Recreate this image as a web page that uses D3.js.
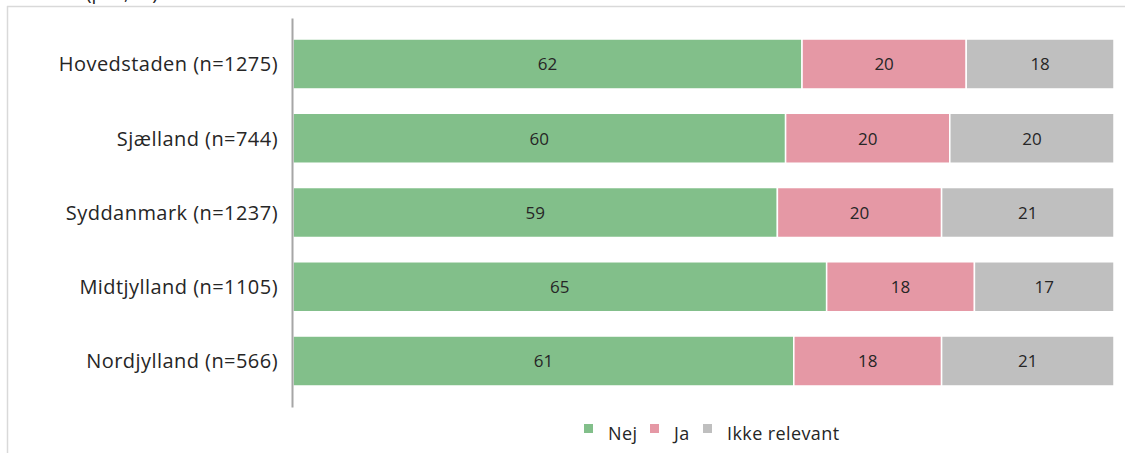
<!DOCTYPE html>
<html lang="da">
<head>
<meta charset="utf-8">
<title>Stacked bars by region</title>
<script src="https://cdn.jsdelivr.net/npm/d3@7"></script>
<style>
  body { margin: 0; background: #fff; }
  svg text { font-family: "Open Sans", Lato, sans-serif; fill: #262626; }
</style>
</head>
<body>
<script>
// data
var regions = ["Hovedstaden (n=1275)", "Sjælland (n=744)", "Syddanmark (n=1237)", "Midtjylland (n=1105)", "Nordjylland (n=566)"];
var seriesNames = ["Nej", "Ja", "Ikke relevant"];
var nej = [62, 60, 59, 65, 61];
var ja = [20, 20, 20, 18, 18];
var ikkeRelevant = [18, 20, 21, 17, 21];
var colors = ["#82bf8a", "#e598a5", "#bfbfbf"];

var w = 1125, h = 453;

var svg = d3.select("body").append("svg")
    .attr("width", w)
    .attr("height", h);

// chart frame (cut off at right and bottom)
svg.append("line").attr("x1", 7.5).attr("x2", 7.5).attr("y1", 6).attr("y2", h)
    .attr("stroke", "#d9d9d9").attr("stroke-width", 1.5);
svg.append("line").attr("x1", 7).attr("x2", w).attr("y1", 6.5).attr("y2", 6.5)
    .attr("stroke", "#d9d9d9").attr("stroke-width", 1.5);

// title, mostly outside the picture
svg.append("text").attr("x", 86).attr("y", 0)
    .style("font-size", "19px")
    .text("(pct., år)");

var rows = regions.map(function(r, i) {
    return { region: r, values: [nej[i], ja[i], ikkeRelevant[i]] };
});

var xScale = d3.scaleLinear().domain([0, 100]).range([293, 1114]);
var yScale = d3.scaleBand().domain(regions).range([18, 407])
    .paddingInner(0.327).paddingOuter(0.283);

var segs = [];
rows.forEach(function(row) {
    var x0 = 0;
    row.values.forEach(function(v, j) {
        segs.push({ region: row.region, start: x0, end: x0 + v, value: v, k: j });
        x0 += v;
    });
});

svg.selectAll("rect.seg")
   .data(segs)
   .enter()
   .append("rect")
   .attr("class", "seg")
   .attr("x", function(d) { return xScale(d.start); })
   .attr("y", function(d) { return yScale(d.region); })
   .attr("width", function(d) { return xScale(d.end) - xScale(d.start); })
   .attr("height", yScale.bandwidth())
   .attr("fill", function(d) { return colors[d.k]; })
   .attr("stroke", "#fff")
   .attr("stroke-width", 1.5);

svg.selectAll("text.val")
   .data(segs)
   .enter()
   .append("text")
   .attr("class", "val")
   .attr("x", function(d) { return (xScale(d.start) + xScale(d.end)) / 2; })
   .attr("y", function(d) { return yScale(d.region) + yScale.bandwidth() / 2; })
   .attr("text-anchor", "middle")
   .attr("dy", "0.37em")
   .style("font-size", "17px")
   .text(function(d) { return d.value; });

// y axis
var yAxis = d3.axisLeft(yScale).tickSize(0).tickPadding(14);
var gy = svg.append("g").attr("transform", "translate(292,0)").call(yAxis);
gy.select(".domain").attr("stroke", "#a6a6a6").attr("stroke-width", 2);
gy.selectAll("text")
  .style("font-size", "20px")
  .style("letter-spacing", "0.45px")
  .attr("dy", "0.37em")
  .attr("fill", "#262626");

// legend
var legendX = [584, 650, 703];
var legend = svg.selectAll("g.leg")
   .data(seriesNames)
   .enter()
   .append("g")
   .attr("class", "leg")
   .attr("transform", function(d, i) { return "translate(" + legendX[i] + ",424)"; });
legend.append("rect").attr("width", 9).attr("height", 9)
   .attr("fill", function(d, i) { return colors[i]; });
legend.append("text").attr("x", 24).attr("y", 16)
   .style("font-size", "18px")
   .style("letter-spacing", "0.4px")
   .text(function(d) { return d; });
</script>
</body>
</html>
